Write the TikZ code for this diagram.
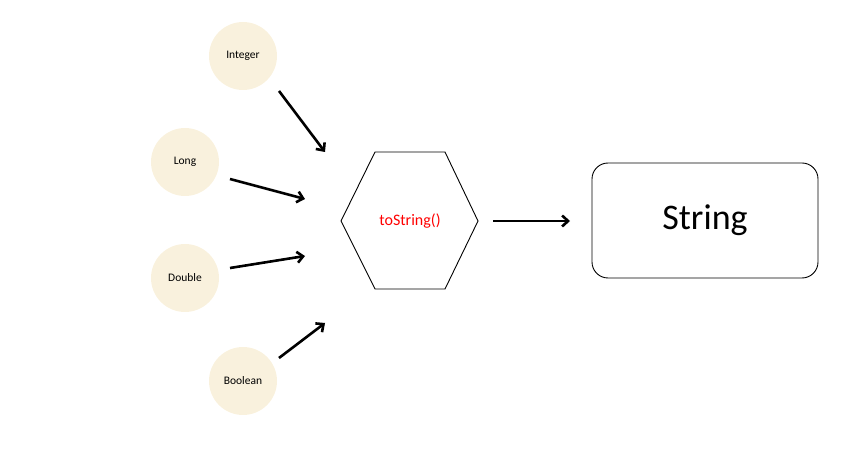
\documentclass[tikz,border=0pt]{standalone}
\usepackage{fontspec}
\setmainfont{Carlito}
\usetikzlibrary{arrows.meta,shapes.geometric}
\definecolor{cream}{HTML}{F9F1DD}
\definecolor{redtxt}{HTML}{FF0000}
\begin{document}
\begin{tikzpicture}[x=1pt,y=-1pt,
  bubble/.style={circle,fill=cream,minimum size=68pt,inner sep=0pt,font=\fontsize{11.5}{12}\selectfont},
  conn/.style={line width=2.6pt,-{Straight Barb[length=6pt,width=11pt,line width=2.6pt]}}]
\useasboundingbox (0,0) rectangle (868,470);
\node[bubble] (int) at (243,56) {Integer};
\node[bubble] (lng) at (185,162) {Long};
\node[bubble] (dbl) at (185,278) {Double};
\node[bubble] (bool) at (243,381) {Boolean};
\draw[line width=0.9pt] (341,221) -- (375,152) -- (445,152) -- (478,221) -- (445,289) -- (375,289) -- cycle;
\node[text=redtxt,font=\fontsize{16}{18}\selectfont] (hex) at (410,221) {toString()};
\node[draw,line width=0.9pt,rounded corners=16pt,minimum width=226pt,minimum height=115pt,font=\fontsize{36}{40}\selectfont] (str) at (705,220.5) {String};
\coordinate (a1s) at (279,91); \coordinate (a1e) at (325,152);
\coordinate (a2s) at (230,179); \coordinate (a2e) at (305,199);
\coordinate (a3s) at (230,268); \coordinate (a3e) at (305,256);
\coordinate (a4s) at (279,358); \coordinate (a4e) at (325,323);
\coordinate (a5s) at (493,221); \coordinate (a5e) at (570,221);
\draw[conn] (a1s) -- (a1e);
\draw[conn] (a2s) -- (a2e);
\draw[conn] (a3s) -- (a3e);
\draw[conn] (a4s) -- (a4e);
\draw[conn] (a5s) -- (a5e);
\end{tikzpicture}
\end{document}
